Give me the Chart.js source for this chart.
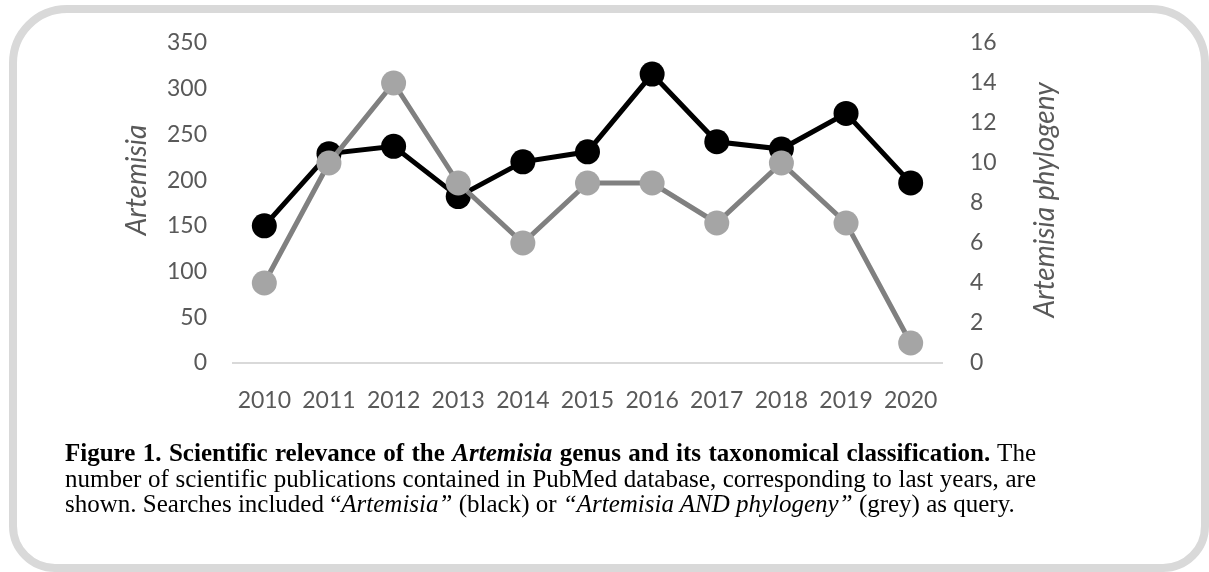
<!DOCTYPE html>
<html>
<head>
<meta charset="utf-8">
<script src="https://cdn.jsdelivr.net/npm/chart.js@4.4.1/dist/chart.umd.min.js"></script>
<style>
  html, body { margin: 0; padding: 0; background: #ffffff; }
  body { width: 1209px; height: 572px; position: relative; overflow: hidden; }
  .frame {
    position: absolute; left: 9px; top: 5px; width: 1200px; height: 567px;
    box-sizing: border-box; border: 8px solid #d9d9d9;
    border-radius: 58px 58px 46px 46px;
  }
  #chart { position: absolute; left: 0; top: 0; }
  .caption {
    position: absolute; left: 65px; top: 440px; width: 971px;
    font-family: "Liberation Serif", "Times New Roman", serif;
    font-size: 25px; line-height: 25.5px; color: #000;
  }
  .caption div { text-align: justify; text-align-last: justify; }
  .caption div.last { text-align: left; text-align-last: left; white-space: nowrap; }
</style>
</head>
<body>
<div class="frame"></div>
<canvas id="chart" width="1209" height="440"></canvas>
<div class="caption">
  <div><b>Figure 1. Scientific relevance of the <i>Artemisia</i> genus and its taxonomical classification.</b> The</div>
  <div>number of scientific publications contained in PubMed database, corresponding to last years, are</div>
  <div class="last">shown. Searches included “<i>Artemisia”</i> (black) or <i>“Artemisia AND phylogeny”</i> (grey) as query.</div>
</div>
<script>
// PubMed publication counts per year
const years = ['2010', '2011', '2012', '2013', '2014', '2015', '2016', '2017', '2018', '2019', '2020'];
const artemisia = [150, 229, 237, 182, 220, 231, 316, 242, 234, 273, 197];
const artemisiaPhylogeny = [4, 10, 14, 9, 6, 9, 9, 7, 10, 7, 1];
const leftTicks = { min: 0, max: 350, step: 50 };
const rightTicks = { min: 0, max: 16, step: 2 };
const leftTitle = 'Artemisia';
const rightTitle = 'Artemisia phylogeny';

const tickColor = '#595959';
const tickFont = { family: 'Lato', size: 23 };
const titleFont = 'italic 28px Lato';

// rotated axis titles, drawn beside the tick columns
const axisTitles = {
  id: 'axisTitles',
  afterDraw(chart) {
    const { ctx } = chart;
    const draw = (text, x, y) => {
      ctx.save();
      ctx.translate(x, y);
      ctx.rotate(-Math.PI / 2);
      ctx.font = titleFont;
      ctx.fillStyle = tickColor;
      ctx.textAlign = 'center';
      ctx.textBaseline = 'middle';
      ctx.fillText(text, 0, 0);
      ctx.restore();
    };
    draw(leftTitle, 137, 180);
    draw(rightTitle, 1045, 200);
  }
};

new Chart(document.getElementById('chart'), {
  type: 'line',
  data: {
    labels: years,
    datasets: [
      {
        label: rightTitle,
        data: artemisiaPhylogeny,
        yAxisID: 'y1',
        order: 0,
        borderColor: '#808080',
        borderWidth: 5,
        pointBackgroundColor: '#a5a5a5',
        pointBorderColor: '#a5a5a5',
        pointBorderWidth: 0,
        pointRadius: 12.5,
        tension: 0,
        clip: false
      },
      {
        label: leftTitle,
        data: artemisia,
        yAxisID: 'y',
        order: 1,
        borderColor: '#000000',
        borderWidth: 5,
        pointBackgroundColor: '#000000',
        pointBorderColor: '#000000',
        pointBorderWidth: 0,
        pointRadius: 12.5,
        tension: 0,
        clip: false
      }
    ]
  },
  options: {
    responsive: false,
    animation: false,
    layout: { padding: { left: 100, right: 100, top: 43, bottom: 27 } },
    plugins: { legend: { display: false }, tooltip: { enabled: false } },
    scales: {
      x: {
        type: 'category',
        offset: true,
        grid: { display: false, drawTicks: false },
        border: { display: false },
        ticks: { color: tickColor, font: tickFont, padding: 24, maxRotation: 0, autoSkip: false },
        afterFit(s) { s.height = 50; }
      },
      y: {
        position: 'left',
        min: leftTicks.min, max: leftTicks.max,
        ticks: { stepSize: leftTicks.step, color: tickColor, font: tickFont, padding: 25 },
        grid: {
          drawTicks: false,
          lineWidth: 2,
          color: (c) => (c.tick && c.tick.value === 0 ? '#d9d9d9' : 'rgba(0,0,0,0)')
        },
        border: { display: false },
        afterFit(s) { s.width = 132; }
      },
      y1: {
        position: 'right',
        min: rightTicks.min, max: rightTicks.max,
        ticks: { stepSize: rightTicks.step, color: tickColor, font: tickFont, padding: 27 },
        grid: { display: false, drawTicks: false },
        border: { display: false },
        afterFit(s) { s.width = 166; }
      }
    }
  },
  plugins: [axisTitles]
});
</script>
</body>
</html>
